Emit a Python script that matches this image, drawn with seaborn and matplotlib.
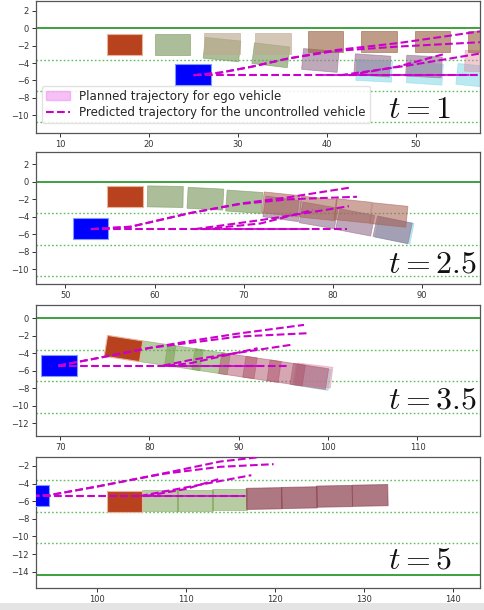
import matplotlib
matplotlib.use("Agg")
import matplotlib.pyplot as plt
from matplotlib.patches import Rectangle, Patch
from matplotlib.lines import Line2D
import seaborn as sns

# ---------------- data ----------------
LANE_SOLID = [0.0, -14.4]
LANE_DOTTED = [-3.6, -7.2, -10.8]
TIME_LABELS = ["$t = 1$", "$t = 2.5$", "$t = 3.5$", "$t = 5$"]
XLIMS = [(7.3, 57.2), (46.7, 96.5), (67.3, 117.0), (93.1, 143.0)]
YLIMS = [(-12.05, 3.15), (-11.7, 3.4), (-13.45, 1.5), (-15.85, -0.98)]
XTICKS = [[10, 20, 30, 40, 50], [50, 60, 70, 80, 90],
          [70, 80, 90, 100, 110], [100, 110, 120, 130, 140]]
YTICKS = [[-10, -8, -6, -4, -2, 0, 2], [-10, -8, -6, -4, -2, 0, 2],
          [-12, -10, -8, -6, -4, -2, 0], [-14, -12, -10, -8, -6, -4, -2]]

# ego vehicle (red) and uncontrolled vehicle (blue)
EGO_X = [17.25, 56.7, 77.1, 103.05]
EGO_Y = [-1.85, -1.65, -3.47, -6.0]
EGO_ANG = [0, 0, -9, 0]
OTHER_X = [24.95, 52.8, 69.85, 92.6]
OTHER_Y = [-5.35, -5.4, -5.43, -5.4]

# planned trajectory footprints, per panel
P1_X = [45.3, 51.0, 56.6, 39.25, 45.1, 50.9, 57.5, 22.65, 28.2, 33.7, 28.2, 33.95, 39.85, 45.85, 51.85, 57.8]
P1_Y = [-4.9, -5.2, -5.45, -3.7, -4.27, -4.4, -3.8, -1.88, -2.45, -3.1, -1.75, -1.7, -1.5, -1.47, -1.47, -1.5]
P1_A = [-3, -4, -6, -5, -4, -3, -2, 0, -6, -7, 0, 0, 0, 0, 0, 0]
P1_K = ["cyan", "cyan", "cyan", "mauve", "mauve", "mauve", "pink", "sage", "sage", "sage",
        "tan", "tan", "brown", "brown", "brown", "brown"]

P2_X = [61.2, 65.7, 70.05, 86.9, 74.3, 78.4, 82.5, 86.7, 74.15, 78.35, 82.25, 86.3]
P2_Y = [-1.71, -1.94, -2.29, -5.55, -3.1, -3.85, -4.65, -5.5, -2.57, -3.05, -3.34, -3.8]
P2_A = [-1, -3, -4, -11, -8, -10, -11, -12, -6, -6, -6, -6]
P2_K = ["sage", "sage", "sage", "cyan", "mauve", "mauve", "mauve", "mauve",
        "brown2", "brown2", "brown2", "brown2"]

P3_X = [80.8, 83.85, 86.9, 98.2, 98.4, 89.9, 92.6, 95.3, 97.9]
P3_Y = [-4.04, -4.50, -4.97, -6.75, -6.55, -5.43, -5.84, -6.25, -6.65]
P3_A = [-8.7, -8.7, -8.7, -9, -7, -8.7, -8.7, -8.7, -8.7]
P3_K = ["green", "green", "green", "cyan", "pink", "rose", "rose", "rose", "rose"]

P4_X = [107.05, 110.95, 114.85, 118.75, 122.7, 126.65, 130.65]
P4_Y = [-5.92, -5.9, -5.85, -5.7, -5.6, -5.45, -5.35]
P4_A = [0, 0, 0, 1, 1, 1, 1]
P4_K = ["green", "green", "green", "rose4", "rose4", "rose4", "rose4"]

PLAN_X = [P1_X, P2_X, P3_X, P4_X]
PLAN_Y = [P1_Y, P2_Y, P3_Y, P4_Y]
PLAN_A = [P1_A, P2_A, P3_A, P4_A]
PLAN_K = [P1_K, P2_K, P3_K, P4_K]

# predicted trajectories of the uncontrolled vehicle (dashed)
PRED1_X = [[25.0, 28.0, 31.4, 35.5, 41.0, 48.0, 57.2],
           [25.0, 28.0, 31.4, 35.5, 41.0, 48.0, 57.2],
           [25.0, 57.2],
           [41.5, 49.0, 57.2],
           [42.5, 48.0, 53.2]]
PRED1_Y = [[-5.4, -5.1, -4.45, -3.5, -2.5, -1.7, -0.35],
           [-5.4, -5.1, -4.45, -3.5, -2.6, -2.1, -1.6],
           [-5.4, -5.4],
           [-5.4, -4.3, -2.9],
           [-5.4, -4.4, -2.95]]
PRED2_X = [[52.85, 57.3, 63.9, 69.6, 75.2, 82.1],
           [52.85, 57.3, 63.9, 69.6, 75.2, 82.7],
           [52.85, 81.6],
           [64.5, 71.9, 81.8],
           [65.5, 71.9, 77.7]]
PRED2_Y = [[-5.42, -5.15, -3.6, -2.5, -1.75, -0.64],
           [-5.42, -5.15, -3.6, -2.55, -2.0, -1.72],
           [-5.42, -5.42],
           [-5.42, -4.39, -2.8],
           [-5.42, -4.77, -3.24]]
PRED3_X = [[69.8, 74.5, 80.0, 84.6, 90.0, 97.3],
           [69.8, 74.5, 80.0, 84.6, 90.0, 97.9],
           [69.8, 95.5],
           [81.5, 84.6, 95.8],
           [82.0, 84.6, 92.1]]
PRED3_Y = [[-5.42, -4.5, -3.4, -2.6, -1.75, -0.77],
           [-5.42, -4.5, -3.4, -2.8, -2.1, -1.71],
           [-5.42, -5.42],
           [-5.42, -4.77, -3.05],
           [-5.42, -5.14, -3.43]]
PRED4_X = [[92.6, 94.7, 99.9, 107.4, 113.8, 118.2],
           [92.6, 94.7, 99.9, 107.4, 113.8, 119.8],
           [92.6, 116.6],
           [104.8, 110.4, 117.3],
           [105.5, 110.0, 113.6]]
PRED4_Y = [[-5.41, -5.3, -4.35, -2.85, -1.5, -1.0],
           [-5.41, -5.3, -4.35, -2.9, -2.1, -1.8],
           [-5.41, -5.41],
           [-5.41, -4.35, -3.05],
           [-5.41, -4.6, -3.5]]
PRED_X = [PRED1_X, PRED2_X, PRED3_X, PRED4_X]
PRED_Y = [PRED1_Y, PRED2_Y, PRED3_Y, PRED4_Y]

SOLID_X = [[39.5, 56.0], [65.1, 77.3], [81.2, 92.5], [105.2, 116.6]]
SOLID_Y = [[-5.4, -5.4], [-5.42, -5.42], [-5.42, -5.42], [-5.41, -5.41]]

LEGEND_LABELS = ["Planned trajectory for ego vehicle",
                 "Predicted trajectory for the uncontrolled vehicle"]

# ---------------- style ----------------
KIND_STYLE = {
    "sage":   ("#7e9b62", 0.65),
    "tan":    ("#bfa991", 0.65),
    "brown":  ("#945b37", 0.6),
    "brown2": ("#a5604f", 0.55),
    "mauve":  ("#94708d", 0.6),
    "pink":   ("#e08aa0", 0.45),
    "cyan":   ("#8ddbe9", 0.6),
    "green":  ("#739b4b", 0.5),
    "rose":   ("#ad5068", 0.5),
    "rose4":  ("#8e4452", 0.72),
}
VEH_L, VEH_W = 4.0, 2.4
AX_POS = [(0.0744, 0.7820, 0.9174, 0.2164),
          (0.0744, 0.5344, 0.9174, 0.2164),
          (0.0744, 0.2852, 0.9174, 0.2148),
          (0.0744, 0.0361, 0.9174, 0.2148)]
TLABEL_Y = [0.113, 0.09, 0.21, 0.15]
MAG = "#cc00cc"

sns.set_style("ticks")
plt.rcParams["font.family"] = ["DejaVu Sans"]
plt.rcParams["mathtext.fontset"] = "cm"
plt.rcParams["axes.edgecolor"] = "#555555"
plt.rcParams["axes.linewidth"] = 0.9

fig = plt.figure(figsize=(4.84, 6.10), dpi=100)
fig.patches.append(Rectangle((0, 0), 1, 0.011, transform=fig.transFigure,
                             facecolor="#e4e4e4", edgecolor="none", zorder=-5))


def add_rect(ax, cx, cy, ang, fc, alpha, ec=None, lw=0.6, z=2):
    r = Rectangle((cx - VEH_L / 2, cy - VEH_W / 2), VEH_L, VEH_W, angle=ang,
                  rotation_point="center", facecolor=fc, alpha=alpha,
                  edgecolor=ec if ec else fc, lw=lw, zorder=z)
    ax.add_patch(r)


for i in range(4):
    ax = fig.add_axes(AX_POS[i])
    ax.set_facecolor("white")
    for y in LANE_SOLID:
        ax.axhline(y, color="#2e9a2e", lw=1.3, zorder=1)
    for y in LANE_DOTTED:
        ax.axhline(y, color="#5cc05c", lw=1.0, ls=(0, (1.2, 1.6)), zorder=1)

    for cx, cy, a, k in zip(PLAN_X[i], PLAN_Y[i], PLAN_A[i], PLAN_K[i]):
        fc, al = KIND_STYLE[k]
        add_rect(ax, cx, cy, a, fc, al)

    add_rect(ax, EGO_X[i], EGO_Y[i], EGO_ANG[i], "#b8421e", 1.0, ec="#e8b49a", lw=0.8, z=3)
    add_rect(ax, OTHER_X[i], OTHER_Y[i], 0, "#0000ff", 1.0, ec="#7f9cff", lw=0.8, z=3)

    for xs, ys in zip(PRED_X[i], PRED_Y[i]):
        sns.lineplot(x=xs, y=ys, ax=ax, color=MAG, lw=1.5, linestyle="--",
                     sort=False, estimator=None, zorder=4)
    sns.lineplot(x=SOLID_X[i], y=SOLID_Y[i], ax=ax, color=MAG, lw=1.2,
                 sort=False, estimator=None, zorder=4)

    ax.set_xlim(*XLIMS[i])
    ax.set_ylim(*YLIMS[i])
    ax.set_xticks(XTICKS[i])
    ax.set_yticks(YTICKS[i])
    ax.tick_params(labelsize=6, length=3, width=0.7, colors="#333333", pad=2)
    ax.text(0.793, TLABEL_Y[i], TIME_LABELS[i], transform=ax.transAxes,
            fontsize=23, ha="left", va="baseline", color="#111111", zorder=6)

    if i == 0:
        handles = [Patch(facecolor="violet", edgecolor="violet", alpha=0.5),
                   Line2D([0], [0], color=MAG, lw=1.5, ls="--")]
        ax.legend(handles, LEGEND_LABELS, loc="lower left",
                  bbox_to_anchor=(0.005, 0.045), fontsize=8.6, frameon=True,
                  framealpha=0.85, edgecolor="#dddddd", handlelength=2.0,
                  borderpad=0.35, labelspacing=0.3, handletextpad=0.8,
                  borderaxespad=0.3, fancybox=True)

fig.savefig("out.png", dpi=100)
